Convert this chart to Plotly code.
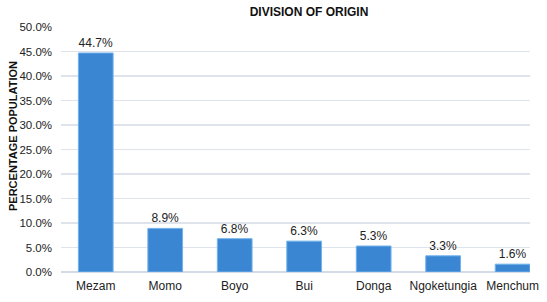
import plotly.graph_objects as go

categories = ["Mezam", "Momo", "Boyo", "Bui", "Donga", "Ngoketungia", "Menchum"]
values = [44.7, 8.9, 6.8, 6.3, 5.3, 3.3, 1.6]
y_ticks = [0, 5, 10, 15, 20, 25, 30, 35, 40, 45, 50]
title_text = "DIVISION OF ORIGIN"
y_title = "PERCENTAGE POPULATION"

W, H = 547, 302
ml, mr, mt, mb = 61, 17, 27, 30

fig = go.Figure()
fig.add_trace(go.Bar(
    x=categories,
    y=values,
    width=0.5,
    marker=dict(color="#3a86d2", line=dict(color="#72b2ec", width=1)),
    text=[f"{v:.1f}%" for v in values],
    textposition="outside",
    textfont=dict(family="Liberation Sans, Arial", size=12, color="#222222"),
    cliponaxis=True,
    hoverinfo="skip",
))

fig.update_layout(
    width=W, height=H,
    margin=dict(l=ml, r=mr, t=mt, b=mb, autoexpand=False),
    paper_bgcolor="white",
    plot_bgcolor="white",
    showlegend=False,
    font=dict(family="Liberation Sans, Arial", size=12, color="#222222"),
    title=dict(text=f"<b>{title_text}</b>", xref="paper", x=(309 - ml) / (W - ml - mr),
               xanchor="center", y=1 - 12 / H, yanchor="middle",
               font=dict(size=12, color="#111111")),
    bargap=0.5,
)

fig.update_xaxes(
    range=[-0.5, 6.25],
    automargin=False,
    showgrid=False,
    showline=False,
    ticks="",
    tickfont=dict(size=12, color="#222222"),
    ticklabelstandoff=5,
)
fig.update_yaxes(
    range=[0, 50],
    automargin=False,
    tickvals=y_ticks,
    ticktext=[f"{v:.1f}%" for v in y_ticks],
    showgrid=True,
    gridcolor="#dfe4ec",
    gridwidth=1.3,
    zeroline=True,
    zerolinecolor="#d5dbe4",
    zerolinewidth=1.3,
    showline=False,
    ticks="",
    tickfont=dict(size=11.5, color="#222222"),
    ticklabelstandoff=8,
)

fig.add_annotation(
    text=f"<b>{y_title}</b>",
    xref="paper", yref="paper",
    x=-(ml - 13) / (W - ml - mr), xanchor="center",
    y=(H - mb - 136) / (H - mt - mb), yanchor="middle",
    textangle=-90, showarrow=False,
    font=dict(size=11, color="#111111"),
)

fig.write_html(
    "out.html",
    config={"displayModeBar": False, "staticPlot": True},
    post_script="document.body.style.margin='0';document.body.style.overflow='hidden';",
)
